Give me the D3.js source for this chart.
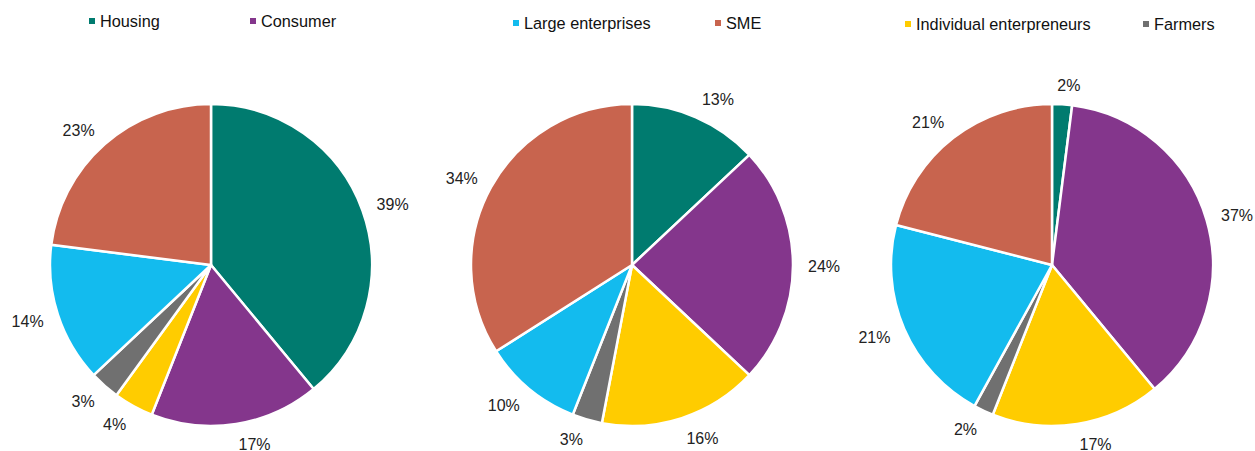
<!DOCTYPE html>
<html>
<head>
<meta charset="utf-8">
<script src="https://cdn.jsdelivr.net/npm/d3@7"></script>
<style>
  body { margin: 0; background: #fff; }
  svg { display: block; font-family: "Liberation Sans", Arial, sans-serif; }
</style>
</head>
<body>
<svg id="chart" width="1255" height="451"></svg>
<script>
// slice order, clockwise from 12 o'clock
const categories = ["Housing", "Consumer", "Individual enterpreneurs", "Farmers", "Large enterprises", "SME"];
const colors = ["#007B6F", "#84368C", "#FFCC00", "#707070", "#13BBEE", "#C8644E"];

// share of each category, one array per pie (%)
const pie1 = [39, 17, 4, 3, 14, 23];
const pie2 = [13, 24, 16, 3, 10, 34];
const pie3 = [2, 37, 17, 2, 21, 21];

// legend entries shown above each pie
const legend1 = ["Housing", "Consumer"];
const legend2 = ["Large enterprises", "SME"];
const legend3 = ["Individual enterpreneurs", "Farmers"];

const width = 1255, height = 451, radius = 161;
const svg = d3.select("#chart");

const color = d3.scaleOrdinal().domain(categories).range(colors);

const charts = [
    { values: pie1, legend: legend1, cx: 211, legendX: [92, 253], legendY: 21 },
    { values: pie2, legend: legend2, cx: 632, legendX: [516, 718], legendY: 23 },
    { values: pie3, legend: legend3, cx: 1052, legendX: [908, 1146], legendY: 24 }
];

const pie = d3.pie().sort(null).value(d => d.value);
const arc = d3.arc().innerRadius(0).outerRadius(radius);

charts.forEach(chart => {
    const data = categories.map((c, i) => ({ name: c, value: chart.values[i] }));

    const g = svg.append("g")
        .attr("transform", `translate(${chart.cx}, 265)`);

    const arcs = pie(data);

    g.selectAll("path")
        .data(arcs)
        .enter()
        .append("path")
        .attr("d", arc)
        .attr("fill", d => color(d.data.name))
        .attr("stroke", "#fff")
        .attr("stroke-width", 2.5)
        .attr("stroke-linejoin", "round");

    // labels outside the pie
    const labelR = 176;
    g.selectAll("text.lab")
        .data(arcs)
        .enter()
        .append("text")
        .attr("class", "lab")
        .attr("font-size", "16px")
        .attr("fill", "#222")
        .attr("text-anchor", "middle")
        .attr("dominant-baseline", "central")
        .text(d => d.data.value + "%")
        .attr("x", function(d) {
            const a = (d.startAngle + d.endAngle) / 2;
            const w = this.getComputedTextLength();
            const sx = Math.sin(a);
            const off = Math.abs(sx) < 0.12 ? Math.sign(sx) * w / 4 : Math.sign(sx) * w / 2;
            return labelR * sx + off;
        })
        .attr("y", d => {
            const a = (d.startAngle + d.endAngle) / 2;
            const sy = -Math.cos(a);
            return labelR * sy + sy * 5 + 1;
        });

    // legend
    const leg = svg.append("g").attr("class", "legend")
        .selectAll("g")
        .data(chart.legend)
        .enter()
        .append("g")
        .attr("transform", (d, i) => `translate(${chart.legendX[i]}, ${chart.legendY})`);

    leg.append("rect")
        .attr("x", -3)
        .attr("y", -3)
        .attr("width", 6)
        .attr("height", 6)
        .attr("fill", d => color(d));

    leg.append("text")
        .attr("x", 8)
        .attr("dy", "0.35em")
        .attr("font-size", "16.3px")
        .attr("fill", "#111")
        .text(d => d);
});
</script>
</body>
</html>
